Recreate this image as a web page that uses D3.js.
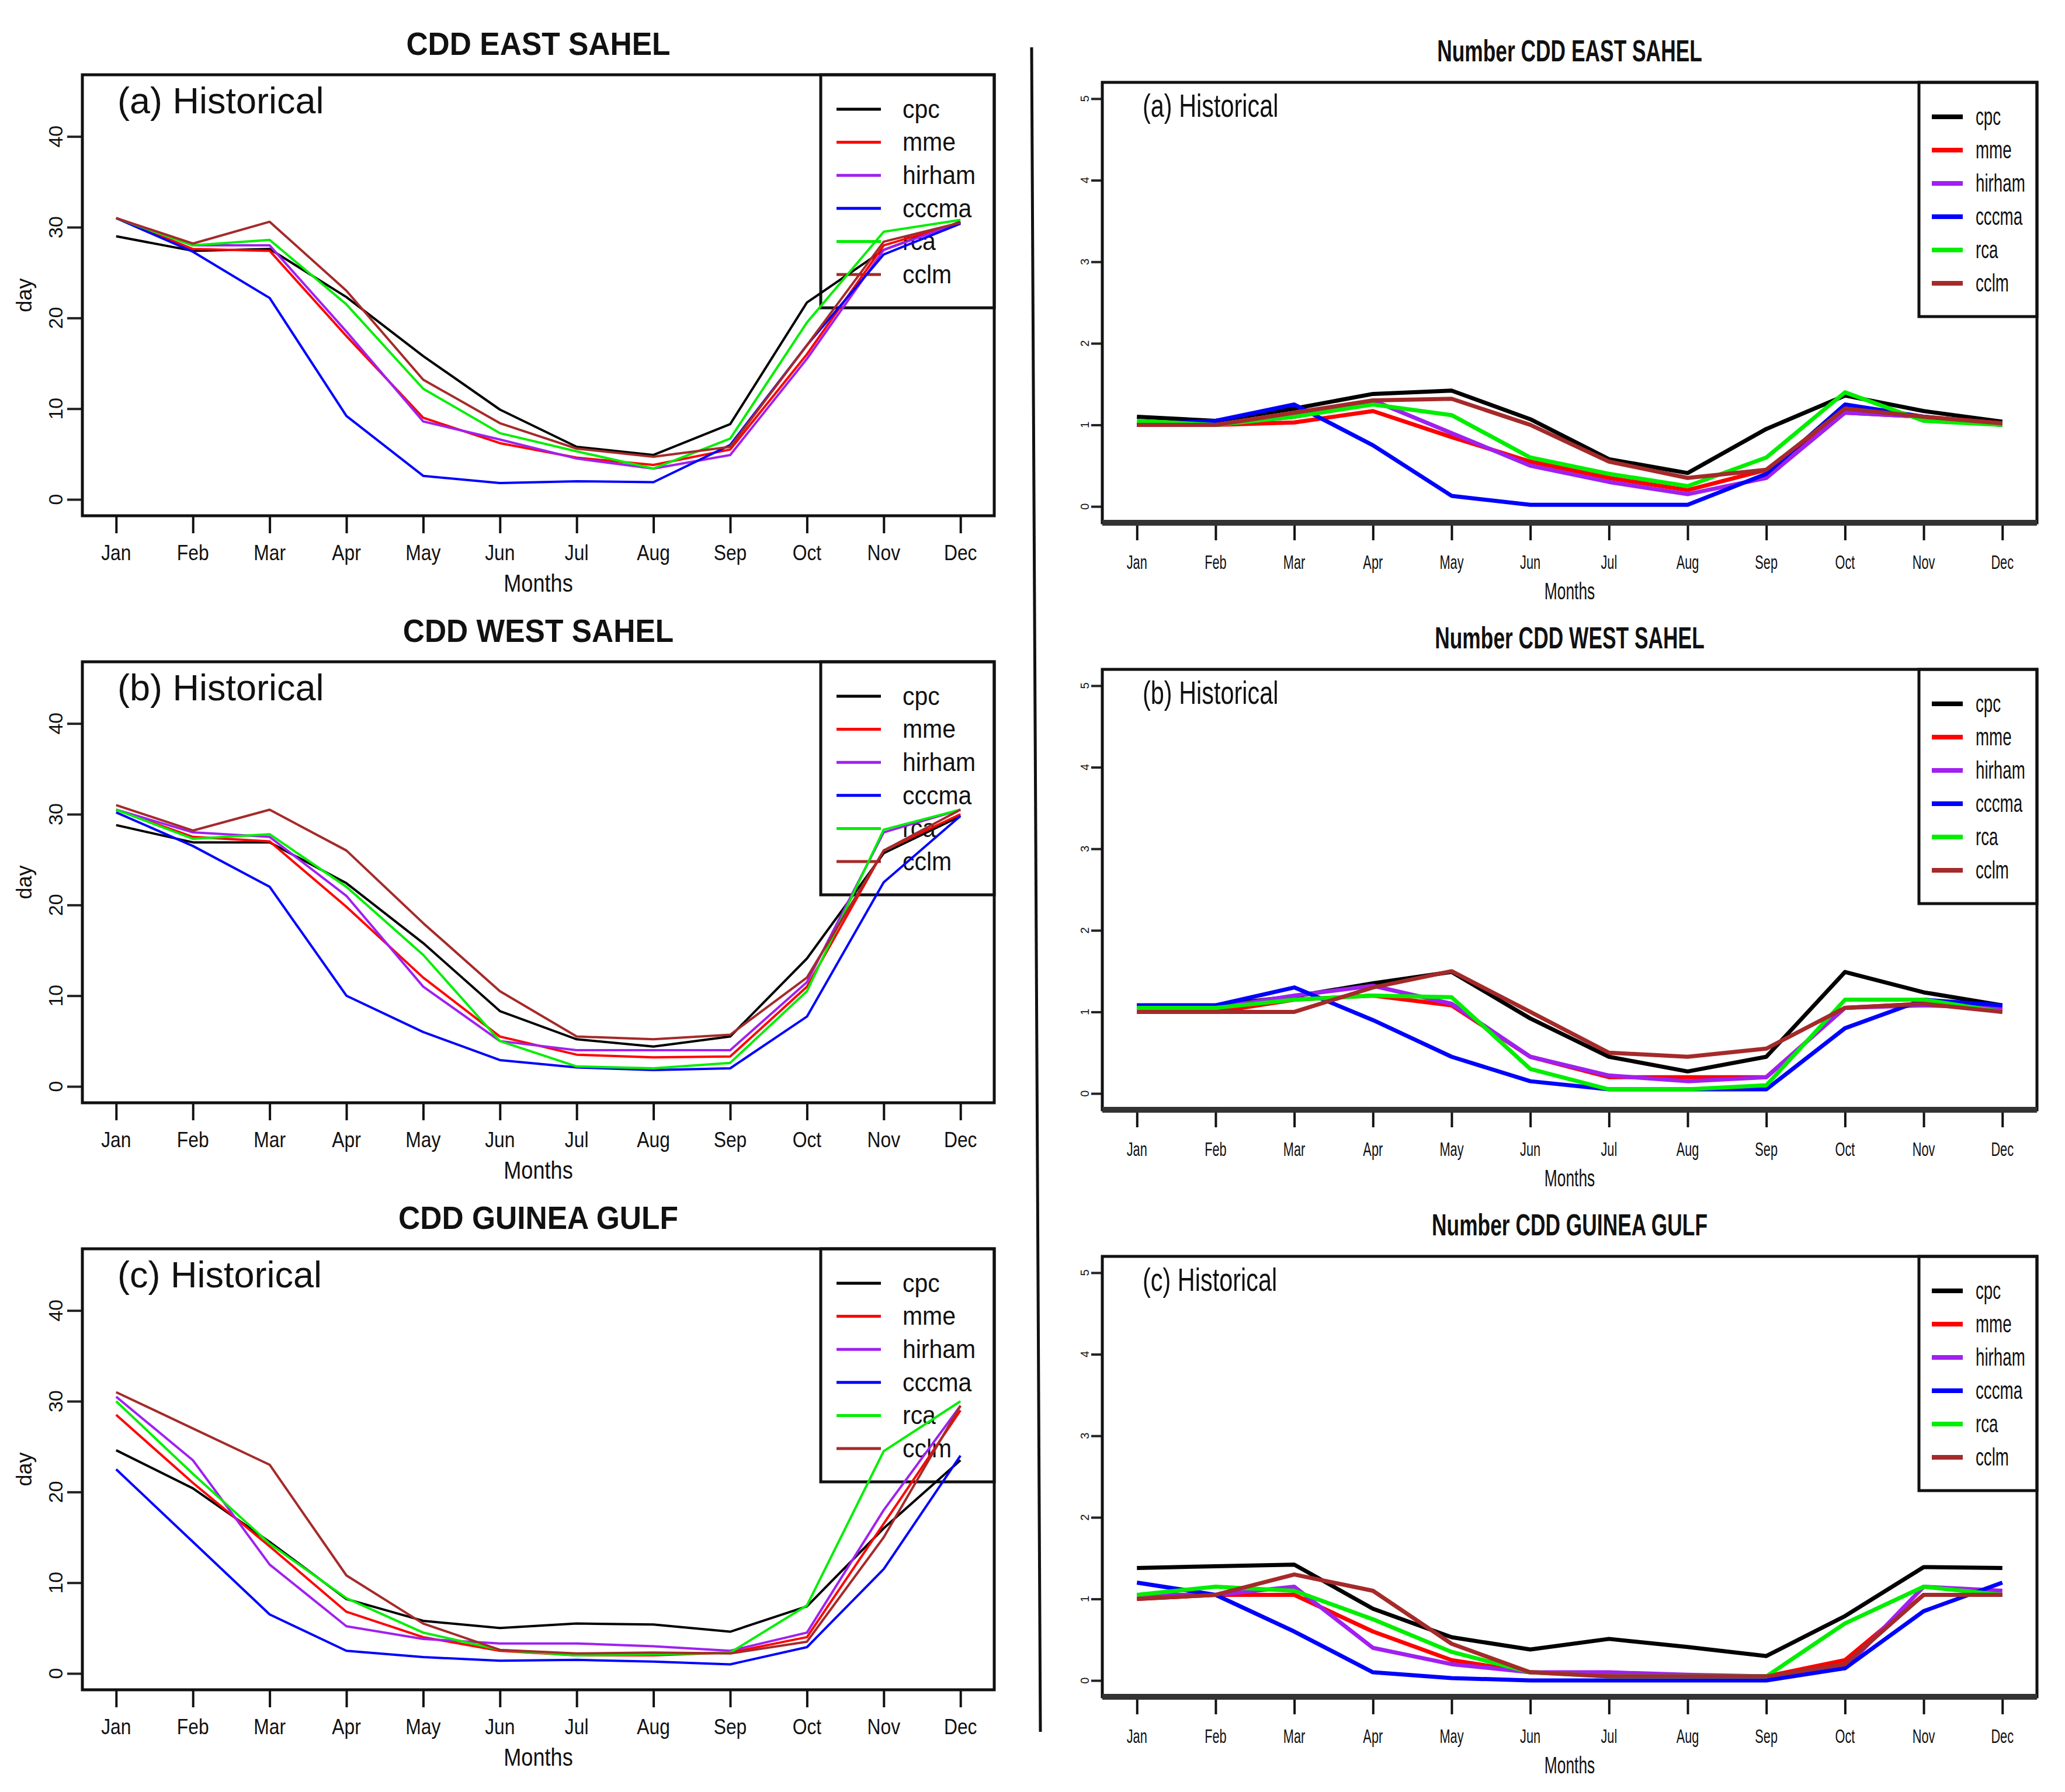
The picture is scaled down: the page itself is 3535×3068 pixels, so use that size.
<!DOCTYPE html>
<html>
<head>
<meta charset="utf-8">
<script src="https://cdn.jsdelivr.net/npm/d3@7"></script>
<style>
  body { margin: 0; background: #fff; }
  text { font-family: "Liberation Sans", Arial, Helvetica, sans-serif; fill: #111; }
</style>
</head>
<body>
<svg id="chart"></svg>
<script>
const W = 3535, H = 3068;

// ---- data ----
const months = ["Jan", "Feb", "Mar", "Apr", "May", "Jun", "Jul", "Aug", "Sep", "Oct", "Nov", "Dec"];
const seriesNames = ["cpc", "mme", "hirham", "cccma", "rca", "cclm"];
const seriesColors = ["#000000", "#ff0000", "#a020f0", "#0000ff", "#00ee00", "#a52a2a"];
const dayTicks = [0, 10, 20, 30, 40];
const numTicks = [0, 1, 2, 3, 4, 5];

// CDD (days), series in the order of seriesNames
const cddEast = [
  [29.0, 27.4, 27.6, 22.3, 15.8, 9.9, 5.8, 4.9, 8.3, 21.7, 27.5, 30.6],
  [31.0, 27.6, 27.4, 18.0, 9.0, 6.2, 4.6, 3.8, 5.5, 16.0, 28.0, 30.5],
  [31.0, 28.0, 28.0, 18.5, 8.6, 6.6, 4.5, 3.4, 4.9, 15.5, 27.5, 30.5],
  [31.0, 27.3, 22.2, 9.2, 2.6, 1.8, 2.0, 1.9, 6.0, 17.0, 27.0, 30.4],
  [31.0, 28.0, 28.6, 21.5, 12.2, 7.3, 5.3, 3.4, 6.7, 19.5, 29.5, 30.8],
  [31.0, 28.2, 30.6, 23.0, 13.2, 8.4, 5.6, 4.7, 5.8, 17.0, 28.4, 30.5]
];
const cddWest = [
  [28.8, 26.9, 26.9, 22.4, 15.8, 8.3, 5.2, 4.4, 5.5, 14.1, 25.7, 29.8],
  [30.5, 27.5, 27.0, 19.8, 12.0, 5.5, 3.5, 3.2, 3.3, 11.0, 26.0, 30.0],
  [30.5, 28.0, 27.5, 21.0, 11.0, 5.0, 4.0, 4.0, 4.0, 11.5, 28.0, 30.5],
  [30.2, 26.5, 22.0, 10.0, 6.0, 2.9, 2.1, 1.8, 2.0, 7.7, 22.5, 29.8],
  [30.5, 27.3, 27.8, 22.0, 14.5, 5.0, 2.2, 2.0, 2.6, 10.5, 28.3, 30.5],
  [31.0, 28.2, 30.5, 26.0, 18.0, 10.5, 5.5, 5.2, 5.7, 12.0, 26.0, 30.5]
];
const cddGuinea = [
  [24.6, 20.4, 14.5, 8.2, 5.8, 5.0, 5.5, 5.4, 4.6, 7.4, 16.0, 23.5],
  [28.5, 21.0, 14.0, 6.8, 4.0, 2.5, 2.0, 2.0, 2.3, 4.0, 16.5, 29.0],
  [30.5, 23.5, 12.0, 5.2, 3.8, 3.3, 3.3, 3.0, 2.5, 4.5, 18.0, 29.5],
  [22.5, 14.5, 6.5, 2.5, 1.8, 1.4, 1.5, 1.3, 1.0, 2.9, 11.5, 24.0],
  [30.0, 22.0, 14.3, 8.3, 4.5, 2.6, 2.0, 2.1, 2.3, 7.5, 24.5, 30.0],
  [31.0, 27.0, 23.0, 10.8, 5.5, 2.6, 2.2, 2.3, 2.2, 3.5, 15.0, 29.5]
];

// Number of CDD events
const numEast = [
  [1.10, 1.05, 1.20, 1.38, 1.42, 1.07, 0.58, 0.41, 0.95, 1.36, 1.17, 1.04],
  [1.00, 1.00, 1.03, 1.17, 0.85, 0.55, 0.35, 0.20, 0.45, 1.15, 1.10, 1.02],
  [1.00, 1.00, 1.10, 1.30, 0.90, 0.50, 0.30, 0.15, 0.35, 1.15, 1.10, 1.00],
  [1.00, 1.05, 1.25, 0.75, 0.13, 0.02, 0.02, 0.02, 0.40, 1.25, 1.10, 1.00],
  [1.05, 1.00, 1.10, 1.25, 1.12, 0.60, 0.40, 0.25, 0.60, 1.40, 1.05, 1.00],
  [1.00, 1.00, 1.15, 1.30, 1.32, 1.00, 0.55, 0.35, 0.45, 1.20, 1.10, 1.02]
];
const numWest = [
  [1.08, 1.08, 1.19, 1.35, 1.49, 0.92, 0.45, 0.27, 0.45, 1.49, 1.24, 1.08],
  [1.00, 1.00, 1.15, 1.20, 1.08, 0.45, 0.20, 0.20, 0.20, 1.05, 1.10, 1.03],
  [1.05, 1.05, 1.20, 1.32, 1.10, 0.45, 0.22, 0.15, 0.20, 1.05, 1.08, 1.05],
  [1.08, 1.08, 1.30, 0.90, 0.45, 0.15, 0.05, 0.05, 0.05, 0.80, 1.15, 1.08],
  [1.05, 1.05, 1.15, 1.20, 1.18, 0.30, 0.05, 0.05, 0.10, 1.15, 1.15, 1.00],
  [1.00, 1.00, 1.00, 1.30, 1.50, 1.00, 0.50, 0.45, 0.55, 1.05, 1.10, 1.00]
];
const numGuinea = [
  [1.38, 1.40, 1.42, 0.88, 0.53, 0.38, 0.51, 0.41, 0.30, 0.79, 1.39, 1.38],
  [1.00, 1.05, 1.05, 0.60, 0.25, 0.10, 0.07, 0.05, 0.05, 0.25, 1.05, 1.05],
  [1.05, 1.05, 1.15, 0.40, 0.20, 0.10, 0.10, 0.07, 0.05, 0.15, 1.15, 1.10],
  [1.20, 1.05, 0.60, 0.10, 0.03, 0.00, 0.00, 0.00, 0.00, 0.15, 0.85, 1.20],
  [1.05, 1.15, 1.10, 0.75, 0.35, 0.10, 0.05, 0.05, 0.05, 0.70, 1.15, 1.05],
  [1.00, 1.05, 1.30, 1.10, 0.45, 0.10, 0.05, 0.05, 0.05, 0.20, 1.05, 1.05]
];

const svg = d3.select("#chart").attr("width", W).attr("height", H);
svg.append("rect").attr("width", W).attr("height", H).attr("fill", "#fff");

// text helper: horizontal squeeze (sx) and optional rotation
function label(g, x, y, str, size, opt = {}) {
  const sx = opt.sx || 1;
  const rot = opt.rotate ? ` rotate(${opt.rotate})` : "";
  return g.append("text")
    .attr("transform", `translate(${x},${y})${rot} scale(${sx},1)`)
    .attr("text-anchor", opt.anchor || "middle")
    .attr("font-size", size)
    .attr("font-weight", opt.bold ? "bold" : "normal")
    .text(str);
}

function drawPanel(p) {
  const g = svg.append("g");
  const x = d3.scaleLinear().domain([0.56, 12.44]).range([p.left, p.right]);
  const pad = (p.ymax - 0) * 0.04;
  const y = d3.scaleLinear().domain([-pad, p.ymax + pad]).range([p.bottom, p.top]);

  // title
  label(g, (p.left + p.right) / 2, p.top - p.titleGap, p.title, p.titleSize, { bold: true, sx: p.titleSx });

  // legend first: the curves are drawn over it in the original
  const lg = g.append("g");
  lg.append("rect").attr("x", p.legX).attr("y", p.top)
    .attr("width", p.right - p.legX).attr("height", p.legH)
    .attr("fill", "#fff").attr("stroke", "#111").attr("stroke-width", 5);
  seriesNames.forEach((s, k) => {
    const ry = p.top + 59 + k * p.legStep;
    lg.append("line").attr("x1", p.legLine[0]).attr("x2", p.legLine[1])
      .attr("y1", ry).attr("y2", ry)
      .attr("stroke", seriesColors[k]).attr("stroke-width", p.legLineW);
    label(lg, p.legText, ry + p.legSize * 0.33, s, p.legSize, { anchor: "start", sx: p.legSx });
  });

  // series
  const line = d3.line().x((d, i) => x(i + 1)).y(d => y(d));
  p.data.forEach((vals, k) => {
    g.append("path").datum(vals)
      .attr("d", line)
      .attr("fill", "none")
      .attr("stroke", seriesColors[k])
      .attr("stroke-width", p.lineW)
      .attr("stroke-linejoin", "round");
  });

  // x axis (long ticks, month labels)
  const xa = g.append("g").attr("transform", `translate(0,${p.bottom})`)
    .call(d3.axisBottom(x).tickValues(d3.range(1, 13)).tickSize(30).tickFormat(""));
  xa.select(".domain").remove();
  xa.selectAll(".tick line").attr("stroke", "#111").attr("stroke-width", 4);
  months.forEach((m, i) => label(g, x(i + 1), p.bottom + p.monthDy, m, p.monthSize, { sx: p.textSx }));
  label(g, (p.left + p.right) / 2, p.bottom + p.xlabDy, "Months", p.xlabSize, { sx: p.textSx });

  // y axis (short ticks, rotated labels)
  const ya = g.append("g").attr("transform", `translate(${p.left},0)`)
    .call(d3.axisLeft(y).tickValues(p.yticks).tickSize(p.ytickLen).tickPadding(0).tickFormat(""));
  ya.select(".domain").remove();
  ya.selectAll(".tick line").attr("stroke", "#222").attr("stroke-width", 4);
  p.yticks.forEach(v => label(g, p.ylabX, y(v), String(v), p.ytickSize, { rotate: -90 }));
  if (p.ylab) label(g, p.ylabPosX, (p.top + p.bottom) / 2, p.ylab, 36, { rotate: -90 });

  // plot box
  g.append("rect").attr("x", p.left).attr("y", p.top)
    .attr("width", p.right - p.left).attr("height", p.bottom - p.top)
    .attr("fill", "none").attr("stroke", "#111").attr("stroke-width", 5);
  if (p.bottomW) {
    g.append("line").attr("x1", p.left).attr("x2", p.right)
      .attr("y1", p.bottom).attr("y2", p.bottom)
      .attr("stroke", "#333").attr("stroke-width", p.bottomW);
  }

  // panel label
  label(g, p.left + p.tagDx, p.top + p.tagDy, p.tag, p.tagSize, { anchor: "start", sx: p.tagSx });
}

const leftTitles = ["CDD EAST SAHEL", "CDD WEST SAHEL", "CDD GUINEA GULF"];
const rightTitles = ["Number CDD EAST SAHEL", "Number CDD WEST SAHEL", "Number CDD GUINEA GULF"];
const tags = ["(a) Historical", "(b) Historical", "(c) Historical"];
const leftData = [cddEast, cddWest, cddGuinea];
const rightData = [numEast, numWest, numGuinea];

[0, 1, 2].forEach(i => {
  const top = 128 + i * 1005;
  drawPanel({
    left: 141, right: 1702, top: top, bottom: top + 755,
    ymax: 45, yticks: dayTicks, data: leftData[i],
    title: leftTitles[i], titleGap: 34, titleSize: 56, titleSx: 0.92,
    lineW: 4, textSx: 0.86, monthDy: 76, monthSize: 37, xlabDy: 130, xlabSize: 42,
    ytickLen: 26, ylabX: 107, ytickSize: 34, ylab: "day", ylabPosX: 54,
    tag: tags[i], tagDx: 60, tagDy: 66, tagSize: 63, tagSx: 1,
    legX: 1405, legH: 399, legStep: 56.6, legLine: [1432, 1508], legLineW: 5,
    legText: 1545, legSize: 45, legSx: 0.91
  });
});

[0, 1, 2].forEach(i => {
  const top = 141 + i * 1005;
  drawPanel({
    left: 1887, right: 3487, top: top, bottom: top + 754,
    ymax: 5, yticks: numTicks, data: rightData[i],
    title: rightTitles[i], titleGap: 36, titleSize: 52, titleSx: 0.68,
    lineW: 7, textSx: 0.66, monthDy: 79, monthSize: 33, xlabDy: 131, xlabSize: 40,
    ytickLen: 19, ylabX: 1864, ytickSize: 20, ylab: null,
    tag: tags[i], tagDx: 69, tagDy: 59, tagSize: 56, tagSx: 0.74,
    legX: 3285, legH: 401, legStep: 57, legLine: [3307, 3360], legLineW: 8,
    legText: 3382, legSize: 42, legSx: 0.66, bottomW: 10
  });
});

// separator between the two columns
svg.append("line").attr("x1", 1766).attr("y1", 81).attr("x2", 1781).attr("y2", 2965)
  .attr("stroke", "#111").attr("stroke-width", 5);
</script>
</body>
</html>
